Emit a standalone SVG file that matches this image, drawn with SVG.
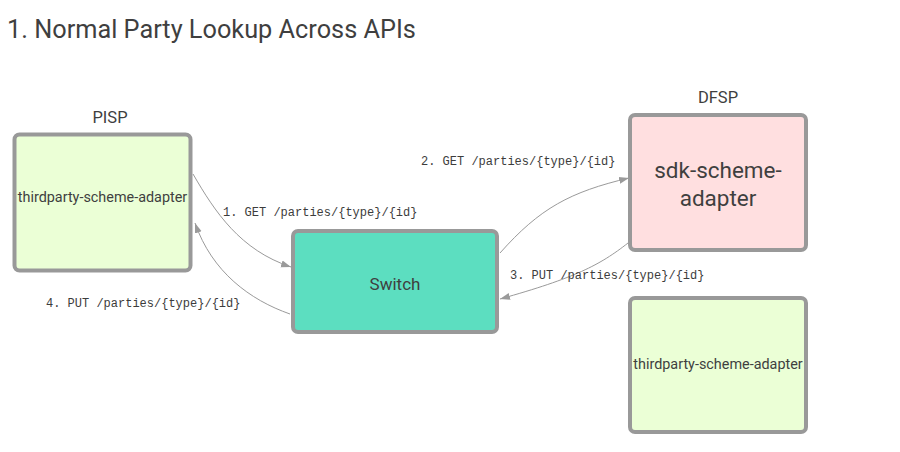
<svg xmlns="http://www.w3.org/2000/svg" width="900" height="452" viewBox="0 0 900 452">
<style>
.box{stroke:#999;stroke-width:4}
.lbl{font-family:Roboto,"Liberation Sans",sans-serif;fill:#3f3f3f}
.mono{font-family:"Liberation Mono","DejaVu Sans Mono",monospace;font-size:12px;fill:#3c3c3c}
.edge{fill:none;stroke:#9a9a9a;stroke-width:1}
</style>
<defs>
<marker id="arr" viewBox="0 0 10 10" refX="10" refY="5" markerWidth="10" markerHeight="10" markerUnits="userSpaceOnUse" orient="auto">
<path d="M0,1.5 L10,5 L0,8.5 Z" fill="#9a9a9a"/>
</marker>
</defs>
<rect width="900" height="452" fill="#fff"/>
<text class="lbl" x="7" y="38" font-size="25.3">1. Normal Party Lookup Across APIs</text>
<text class="lbl" x="110" y="123" font-size="16.5" text-anchor="middle">PISP</text>
<text class="lbl" x="718" y="103" font-size="16.5" text-anchor="middle">DFSP</text>
<g id="pisp-adapter">
<rect class="box" x="14.5" y="134.5" width="176" height="136" rx="5" fill="#ebffd6"/>
<text class="lbl" x="102.5" y="202" font-size="14.4" text-anchor="middle">thirdparty-scheme-adapter</text>
</g>
<g id="switch">
<rect class="box" x="293" y="231" width="204" height="101" rx="5" fill="#5cdec0"/>
<text class="lbl" x="395" y="290" font-size="17" text-anchor="middle">Switch</text>
</g>
<g id="sdk-scheme-adapter">
<rect class="box" x="630" y="115" width="176" height="135" rx="5" fill="#ffdfe0"/>
<text class="lbl" x="718" y="178" font-size="22.5" text-anchor="middle">sdk-scheme-</text>
<text class="lbl" x="718" y="206" font-size="22.5" text-anchor="middle">adapter</text>
</g>
<g id="dfsp-adapter">
<rect class="box" x="630" y="298" width="176" height="134" rx="5" fill="#ebffd6"/>
<text class="lbl" x="718" y="369" font-size="14.4" text-anchor="middle">thirdparty-scheme-adapter</text>
</g>
<g id="connectors">
<path class="edge" d="M193,174 C215,212 240,250 291,267" marker-end="url(#arr)"/>
<path class="edge" d="M290,314 C250,300 212,272 195,223" marker-end="url(#arr)"/>
<path class="edge" d="M500,253 C540,208 570,192 629,178" marker-end="url(#arr)"/>
<path class="edge" d="M628,243 C600,265 575,278 500,299" marker-end="url(#arr)"/>
<text class="mono" x="223" y="216">1. GET /parties/{type}/{id}</text>
<text class="mono" x="421" y="165">2. GET /parties/{type}/{id}</text>
<text class="mono" x="510" y="279">3. PUT /parties/{type}/{id}</text>
<text class="mono" x="46" y="307">4. PUT /parties/{type}/{id}</text>
</g>
</svg>
